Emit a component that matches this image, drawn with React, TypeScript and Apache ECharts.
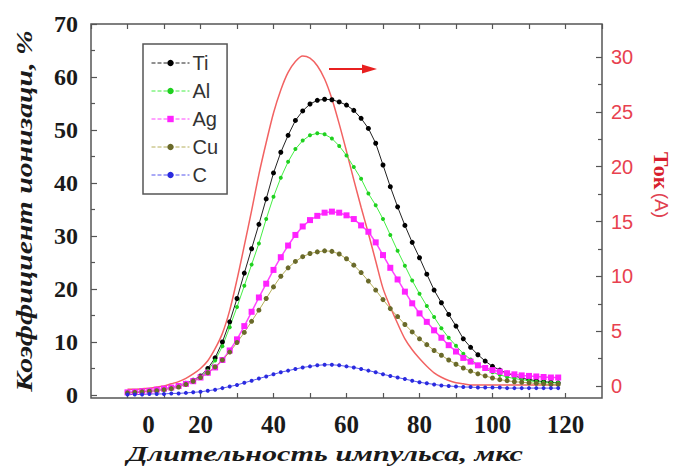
import React, { useEffect, useRef } from "react";
import * as echarts from "echarts";

const xs = [0, 2, 4, 6, 8, 10, 12, 14, 16, 18, 20, 22, 24, 26, 28, 30, 32, 34, 36, 38, 40, 42, 44, 46, 48, 50, 52, 54, 56, 58, 60, 62, 64, 66, 68, 70, 72, 74, 76, 78, 80, 82, 84, 86, 88, 90, 92, 94, 96, 98, 100, 102, 104, 106, 108, 110, 112, 114, 116, 118];

const ti = [0.4, 0.5, 0.6, 0.7, 0.9, 1.1, 1.4, 1.8, 2.2, 2.8, 3.6, 5.0, 7.0, 10.0, 13.8, 18.2, 23.0, 27.6, 32.2, 37.0, 41.9, 45.8, 49.0, 51.8, 53.6, 54.9, 55.6, 55.8, 55.7, 55.3, 54.7, 53.7, 52.2, 50.3, 47.5, 43.4, 39.3, 35.5, 32.0, 28.8, 25.9, 22.8, 19.8, 17.4, 15.2, 13.0, 10.6, 9.0, 7.6, 6.4, 5.4, 4.7, 4.1, 3.6, 3.2, 2.9, 2.7, 2.5, 2.4, 2.3];
const al = [0.4, 0.5, 0.6, 0.7, 0.9, 1.1, 1.4, 1.8, 2.2, 2.7, 3.4, 4.6, 6.5, 9.2, 12.8, 16.6, 20.6, 24.6, 28.6, 33.2, 37.4, 41.0, 44.0, 46.4, 48.0, 49.0, 49.4, 49.2, 48.4, 47.0, 45.2, 43.0, 40.8, 38.0, 35.8, 33.2, 30.2, 27.2, 24.4, 21.6, 19.1, 16.8, 14.7, 12.6, 10.8, 9.3, 7.8, 6.7, 5.7, 4.9, 4.3, 3.8, 3.4, 3.1, 2.9, 2.7, 2.5, 2.4, 2.3, 2.3];
const ag = [0.5, 0.6, 0.7, 0.8, 1.0, 1.2, 1.4, 1.7, 2.1, 2.6, 3.3, 4.2, 5.2, 6.6, 8.4, 10.5, 13.0, 15.7, 18.4, 21.0, 23.6, 26.0, 28.2, 30.2, 31.8, 33.0, 33.8, 34.4, 34.6, 34.4, 33.9, 33.2, 32.0, 30.8, 28.8, 26.4, 24.0, 21.8, 19.5, 17.3, 15.4, 13.8, 12.2, 10.8, 9.4, 8.2, 7.0, 6.3, 5.6, 5.1, 4.7, 4.4, 4.1, 3.9, 3.7, 3.6, 3.5, 3.4, 3.3, 3.3];
const cu = [0.4, 0.5, 0.6, 0.7, 0.8, 1.0, 1.2, 1.5, 2.0, 2.6, 3.3, 4.2, 5.3, 6.6, 8.1, 9.9, 11.8, 13.9, 16.0, 18.2, 20.4, 22.4, 24.0, 25.2, 26.1, 26.7, 27.0, 27.2, 27.1, 26.6, 25.7, 24.5, 23.1, 21.5, 19.8, 18.0, 16.3, 14.8, 13.3, 11.9, 10.6, 9.5, 8.4, 7.5, 6.6, 5.8, 5.1, 4.5, 4.0, 3.6, 3.2, 2.9, 2.7, 2.5, 2.4, 2.3, 2.2, 2.1, 2.0, 2.0];
const cc = [0.1, 0.1, 0.1, 0.2, 0.2, 0.2, 0.3, 0.3, 0.4, 0.5, 0.6, 0.8, 1.0, 1.3, 1.6, 1.9, 2.3, 2.7, 3.1, 3.5, 3.9, 4.3, 4.6, 4.9, 5.2, 5.4, 5.6, 5.7, 5.7, 5.6, 5.4, 5.2, 4.9, 4.6, 4.3, 3.9, 3.6, 3.3, 3.0, 2.7, 2.4, 2.2, 2.0, 1.8, 1.7, 1.6, 1.5, 1.5, 1.4, 1.4, 1.4, 1.4, 1.3, 1.3, 1.3, 1.3, 1.3, 1.3, 1.3, 1.3];
const current = [-0.3, -0.3, -0.25, -0.2, -0.1, 0.0, 0.2, 0.4, 0.7, 1.1, 1.6, 2.3, 3.4, 4.8, 6.9, 9.7, 12.8, 16.0, 19.3, 22.2, 24.9, 27.0, 28.6, 29.6, 30.1, 29.9, 29.2, 28.0, 26.2, 23.9, 21.4, 18.8, 16.3, 13.9, 11.4, 8.9, 7.2, 5.7, 4.3, 3.3, 2.5, 1.8, 1.2, 0.8, 0.5, 0.3, 0.2, 0.1, 0.1, 0.1, 0.1, 0.1, 0.1, 0.1, 0.1, 0.1, 0.1, 0.1, 0.1, 0.1];

const seriesNames = ["Ti", "Al", "Ag", "Cu", "C"];
const xTickLabels = [0, 20, 40, 60, 80, 100, 120];
const xTitle = "Длительность импульса, мкс";
const yLeftTitle = "Коэффициент ионизаци, %";
const yRightTitleA = "Ток";
const yRightTitleB = "(А)";

const SERIF = '"Liberation Serif", "Times New Roman", serif';
const SANS = '"Liberation Sans", Arial, sans-serif';

function measure(font: string, text: string): number {
  const ctx = document.createElement("canvas").getContext("2d");
  if (!ctx) return 100;
  ctx.font = font;
  return ctx.measureText(text).width;
}

const pairs = (ys: number[]) => xs.map((x, i) => [x, ys[i]]);

export default function App() {
  const ref = useRef<HTMLDivElement>(null);
  useEffect(() => {
    if (!ref.current) return;
    const chart = echarts.init(ref.current, undefined, { renderer: "svg" });

    const xTitleFont = "italic bold 22px " + SERIF;
    const xTitleScale = 396 / measure(xTitleFont, xTitle);
    const yTitleFont = "italic bold 23px " + SERIF;
    const yTitleScale = 362 / measure(yTitleFont, yLeftTitle);

    const frameColor = "#555";
    const hiddenX = (gi: number) => ({
      type: "value", gridIndex: gi, min: -10, max: 130, show: false,
      axisLine: { onZero: false },
    });

    const mk = (name: string, data: number[], symbol: string, size: number, color: string, lineColor: string, lw: number) => ({
      name, type: "line", xAxisIndex: 2, yAxisIndex: 1, data: pairs(data),
      symbol, symbolSize: size, showSymbol: true,
      itemStyle: { color, borderWidth: 0 },
      lineStyle: { color: lineColor, width: lw },
      emphasis: { disabled: true },
    });

    chart.setOption({
      animation: false,
      backgroundColor: "#fff",
      grid: [
        { left: 91, top: 24, width: 511, height: 374, show: true, borderColor: frameColor, borderWidth: 1.5, backgroundColor: "transparent" },
        { left: 91, top: 24, width: 511, height: 371 },
        { left: 91, top: 57, width: 511, height: 329 },
      ],
      xAxis: [
        {
          type: "value", gridIndex: 0, min: -10, max: 130, interval: 10, position: "bottom",
          axisLine: { show: false, onZero: false },
          axisTick: { show: true, inside: true, length: 5, lineStyle: { color: frameColor, width: 1.2 } },
          splitLine: { show: false },
          axisLabel: {
            margin: 14, color: "#1a1a1a", fontFamily: SERIF, fontWeight: "bold", fontSize: 25,
            showMinLabel: false, showMaxLabel: false,
            formatter: (v: number) => {
              if (!xTickLabels.includes(v)) return "";
              if (v === 0) return "{z|0}";
              return String(v);
            },
            rich: { z: { fontFamily: SERIF, fontWeight: "bold", fontSize: 25, color: "#1a1a1a", padding: [0, 0, 0, 42] } },
          },
        },
        {
          type: "value", gridIndex: 0, min: -10, max: 130, interval: 10, position: "top",
          axisLine: { show: false, onZero: false },
          axisTick: { show: true, inside: true, length: 5, lineStyle: { color: frameColor, width: 1.2 } },
          splitLine: { show: false },
          axisLabel: { show: false },
        },
        hiddenX(1),
        hiddenX(2),
      ],
      yAxis: [
        { type: "value", gridIndex: 0, min: 0, max: 1, show: false, axisLine: { onZero: false } },
        {
          type: "value", gridIndex: 1, min: 0, max: 70, interval: 10, position: "left",
          axisLine: { show: false, onZero: false },
          axisTick: { show: true, inside: true, length: 6, lineStyle: { color: frameColor, width: 1.2 } },
          minorTick: { show: true, splitNumber: 2, length: 4, lineStyle: { color: frameColor, width: 1.2 } },
          splitLine: { show: false },
          axisLabel: { margin: 13, color: "#1a1a1a", fontFamily: SERIF, fontWeight: "bold", fontSize: 24 },
        },
        {
          type: "value", gridIndex: 2, min: 0, max: 30, interval: 5, position: "right",
          axisLine: { show: false, onZero: false },
          axisTick: { show: true, inside: true, length: 6, lineStyle: { color: frameColor, width: 1.2 } },
          minorTick: { show: true, splitNumber: 2, length: 4, lineStyle: { color: frameColor, width: 1.2 } },
          splitLine: { show: false },
          axisLabel: { margin: 9, color: "#e8414f", fontFamily: SANS, fontSize: 20 },
        },
      ],
      legend: {
        data: seriesNames,
        orient: "vertical",
        left: 143,
        top: 44,
        padding: [9, 9, 9, 8],
        itemGap: 8,
        itemWidth: 38,
        itemHeight: 8,
        borderColor: "#555",
        borderWidth: 1.5,
        backgroundColor: "#fff",
        lineStyle: { type: "dashed", width: 1 },
        textStyle: { fontFamily: SANS, fontSize: 20, color: "#333", padding: [0, 0, 0, -2] },
      },
      series: [
        {
          name: "current", type: "line", xAxisIndex: 3, yAxisIndex: 2, data: pairs(current),
          showSymbol: false, symbol: "none", smooth: 0.3, clip: false,
          lineStyle: { color: "#f26262", width: 1.5 },
          emphasis: { disabled: true },
        },
        mk("Ti", ti, "circle", 5, "#000000", "#222222", 1),
        mk("Al", al, "circle", 4, "#1fd01f", "#44ee44", 1),
        mk("Ag", ag, "rect", 6, "#ff22ff", "#ff44ff", 1.5),
        mk("Cu", cu, "circle", 5, "#6a6a2a", "#b5ae5a", 1),
        mk("C", cc, "circle", 4, "#2a2adf", "#5555ee", 1),
      ],
      graphic: [
        {
          type: "line", shape: { x1: 329, y1: 69, x2: 366, y2: 69 },
          style: { stroke: "#e82020", lineWidth: 2 }, silent: true,
        },
        {
          type: "polygon", shape: { points: [[362, 64.5], [377, 69], [362, 73.5]] },
          style: { fill: "#e82020" }, silent: true,
        },
        {
          type: "text", x: 325, y: 454, scaleX: xTitleScale, silent: true,
          style: { text: xTitle, font: xTitleFont, fill: "#1a1a1a", textAlign: "center", textVerticalAlign: "middle" },
        },
        {
          type: "text", x: 24, y: 211, rotation: Math.PI / 2, scaleX: yTitleScale, silent: true,
          style: { text: yLeftTitle, font: yTitleFont, fill: "#1a1a1a", textAlign: "center", textVerticalAlign: "middle" },
        },
        {
          type: "text", x: 661, y: 185, rotation: -Math.PI / 2, silent: true,
          style: {
            text: "{a|" + yRightTitleA + "} {b|" + yRightTitleB + "}",
            textAlign: "center", textVerticalAlign: "middle",
            rich: {
              a: { fontFamily: SERIF, fontWeight: "bold", fontSize: 22, fill: "#d81e2e", color: "#d81e2e" },
              b: { fontFamily: SANS, fontSize: 19, fill: "#e0404f", color: "#e0404f" },
            },
          },
        },
      ],
    });
    return () => chart.dispose();
  }, []);
  return <div ref={ref} style={{ position: "fixed", left: 0, top: 0, width: 678, height: 468 }} />;
}
